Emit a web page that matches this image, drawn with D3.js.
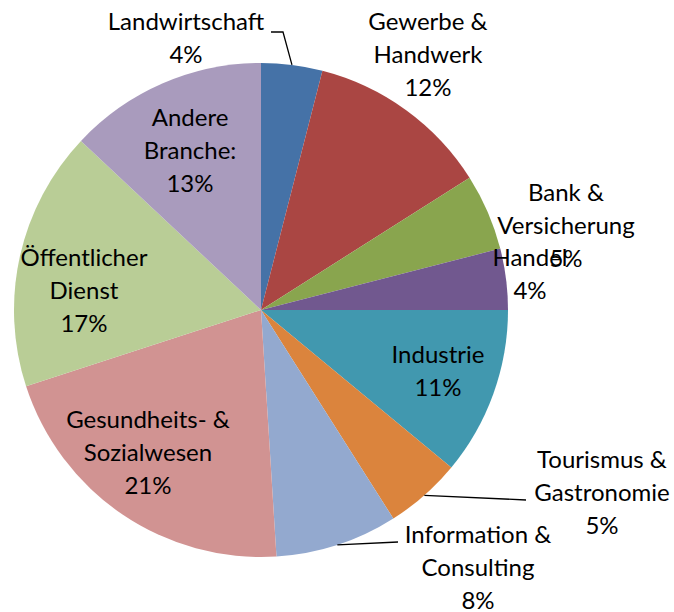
<!DOCTYPE html>
<html>
<head>
<meta charset="utf-8">
<script src="https://cdn.jsdelivr.net/npm/d3@7"></script>
<style>
  body { margin: 0; background: #fff; }
  svg text { font-family: Lato, "Open Sans", sans-serif; fill: #000; }
</style>
</head>
<body>
<svg id="chart"></svg>
<script>
// Chart data
const categories = [
    "Landwirtschaft",
    "Gewerbe & Handwerk",
    "Bank & Versicherung",
    "Handel",
    "Industrie",
    "Tourismus & Gastronomie",
    "Information & Consulting",
    "Gesundheits- & Sozialwesen",
    "Öffentlicher Dienst",
    "Andere Branche:"
];
const shares = [4, 12, 5, 4, 11, 5, 8, 21, 17, 13];

// Label lines as Excel wrapped them
const labelLines = [
    ["Landwirtschaft"],
    ["Gewerbe &", "Handwerk"],
    ["Bank &", "Versicherung"],
    ["Handel"],
    ["Industrie"],
    ["Tourismus &", "Gastronomie"],
    ["Information &", "Consulting"],
    ["Gesundheits- &", "Sozialwesen"],
    ["Öffentlicher", "Dienst"],
    ["Andere", "Branche:"]
];

const colors = ["#4572A7", "#AA4643", "#89A54E", "#71588F", "#4198AF",
                "#DB843D", "#93A9CF", "#D19392", "#B9CD96", "#A99BBD"];

// Layout
const width = 674, height = 612;
const cx = 261, cy = 310, radius = 247;
const lineH = 33;

// Label centres (top line) picked to match the original placement
const labelPos = [
    [186, 22], [428, 22], [566, 193], [530, 258], [438, 355],
    [602, 460], [478, 535], [148, 420], [84, 258], [190, 118]
];

const svg = d3.select("#chart")
    .attr("width", width)
    .attr("height", height);

const pie = d3.pie().sort(null).value(d => d);
const arc = d3.arc().innerRadius(0).outerRadius(radius);
const arcs = pie(shares);

const g = svg.append("g").attr("transform", `translate(${cx},${cy})`);

g.selectAll("path")
    .data(arcs)
    .join("path")
    .attr("d", arc)
    .attr("fill", (d, i) => colors[i]);

// Leader lines for labels sitting outside the pie
const leaders = [
    { i: 0, pts: [[271, 32], [283, 32]] },
    { i: 5, pts: [[526, 500]] },
    { i: 6, pts: [[398, 542]] }
];
leaders.forEach(l => {
    const a = arcs[l.i];
    const mid = (a.startAngle + a.endAngle) / 2;
    const edge = [cx + radius * Math.sin(mid), cy - radius * Math.cos(mid)];
    const pts = l.i === 0 ? [...l.pts, edge] : [edge, ...l.pts];
    svg.append("path")
        .attr("d", d3.line()(pts))
        .attr("fill", "none")
        .attr("stroke", "#000")
        .attr("stroke-width", 1.3);
});

// Labels
const labels = svg.append("g")
    .selectAll("text")
    .data(categories)
    .join("text")
    .attr("text-anchor", "middle")
    .attr("font-size", 24)
    .attr("x", (d, i) => labelPos[i][0])
    .attr("y", (d, i) => labelPos[i][1]);

labels.each(function(d, i) {
    const t = d3.select(this);
    const lines = [...labelLines[i], shares[i] + "%"];
    lines.forEach((s, k) => {
        t.append("tspan")
            .attr("x", labelPos[i][0])
            .attr("y", labelPos[i][1] + k * lineH)
            .attr("dy", "0.35em")
            .text(s);
    });
});
</script>
</body>
</html>
